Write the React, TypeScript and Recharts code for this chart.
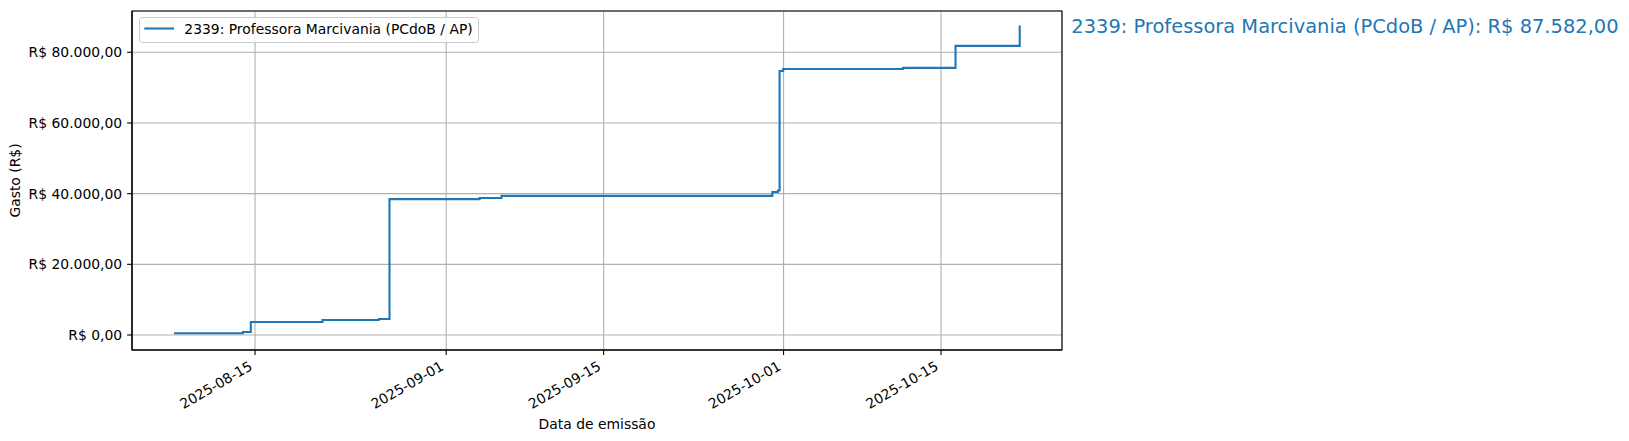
import React from "react";
import { LineChart, Line, XAxis, YAxis, CartesianGrid, ReferenceArea } from "recharts";

// Cumulative spending (step after each invoice date)
const emissionDates = [
  "2025-08-07T19:00",
  "2025-08-13T22:00",
  "2025-08-14T15:00",
  "2025-08-21T00:00",
  "2025-08-26T00:00",
  "2025-08-26T23:00",
  "2025-09-03T23:30",
  "2025-09-05T22:00",
  "2025-09-30T00:00",
  "2025-09-30T12:00",
  "2025-09-30T15:30",
  "2025-09-30T23:00",
  "2025-10-11T15:00",
  "2025-10-16T07:00",
  "2025-10-22T00:00",
];
const gastoAcumulado = [
  500, 850, 3700, 4250, 4550, 38450, 38750, 39380, 40450, 40900, 74700, 75250,
  75600, 81800, 87582,
];
const xTickLabels = ["2025-08-15", "2025-09-01", "2025-09-15", "2025-10-01", "2025-10-15"];
const yTickValues = [0, 20000, 40000, 60000, 80000];
const xDomainLabels = ["2025-08-04T01:26", "2025-10-25T18:14"];
const yDomainValues = [-4240, 91680];

const seriesName = "2339: Professora Marcivania (PCdoB / AP)";
const totalLabel = "R$ 87.582,00";

const toMs = (s: string) => Date.parse(s + ":00Z");
const data = emissionDates.map((d, i) => ({ t: toMs(d), v: gastoAcumulado[i] }));
const xTicks = xTickLabels.map((s) => Date.parse(s + "T00:00:00Z"));
const xDomain = [toMs(xDomainLabels[0]), toMs(xDomainLabels[1])];

const FONT = "DejaVu Sans";
const FS = 13.9;
const BLUE = "#1f77b4";

function fmtBRL(v: number) {
  const neg = v < 0;
  const s = Math.round(Math.abs(v)).toString();
  const withDots = s.replace(/\B(?=(\d{3})+(?!\d))/g, ".");
  return (neg ? "-" : "") + "R$ " + withDots + ",00";
}

function fmtDate(v: number) {
  return new Date(v).toISOString().slice(0, 10);
}

const YTick = (props: any) => {
  const { x, y, payload } = props;
  return (
    <text x={x} y={y} dy={5} textAnchor="end" fontSize={FS} fontFamily={FONT} fill="#000">
      {fmtBRL(payload.value)}
    </text>
  );
};

const XTick = (props: any) => {
  const { x, y, payload } = props;
  const tx = x - 1.6;
  const ty = y + 9.2;
  return (
    <text
      x={tx}
      y={ty}
      textAnchor="end"
      fontSize={FS}
      fontFamily={FONT}
      fill="#000"
      transform={`rotate(-30, ${tx}, ${ty})`}
    >
      {fmtDate(payload.value)}
    </text>
  );
};

export default function App() {
  return (
    <div style={{ position: "absolute", left: 0, top: 0, width: 1629, height: 441, background: "#fff" }}>
      <LineChart
        width={1629}
        height={441}
        data={data}
        margin={{ top: 11, right: 567, bottom: 0, left: 0 }}
      >
        <CartesianGrid stroke="#b0b0b0" strokeWidth={1.1} />
        <XAxis
          dataKey="t"
          type="number"
          scale="linear"
          domain={xDomain}
          allowDataOverflow
          ticks={xTicks}
          interval={0}
          height={91}
          tickSize={4.9}
          tickMargin={4.9}
          tick={XTick}
          axisLine={{ stroke: "#000", strokeWidth: 1.1 }}
          tickLine={{ stroke: "#000", strokeWidth: 1.1 }}
        />
        <YAxis
          type="number"
          domain={yDomainValues}
          allowDataOverflow
          ticks={yTickValues}
          interval={0}
          width={132}
          tickSize={4.9}
          tickMargin={4.9}
          tick={YTick}
          axisLine={{ stroke: "#000", strokeWidth: 1.1 }}
          tickLine={{ stroke: "#000", strokeWidth: 1.1 }}
        />
        <Line
          type="stepAfter"
          dataKey="v"
          stroke={BLUE}
          strokeWidth={2.1}
          dot={false}
          activeDot={false}
          isAnimationActive={false}
        />
        <ReferenceArea
          x1={xDomain[0]}
          x2={xDomain[1]}
          y1={yDomainValues[0]}
          y2={yDomainValues[1]}
          ifOverflow="visible"
          fill="none"
          fillOpacity={0}
          stroke="#000"
          strokeWidth={1.1}
          strokeOpacity={1}
        />
      </LineChart>
      <svg
        width={1629}
        height={441}
        style={{ position: "absolute", left: 0, top: 0, pointerEvents: "none" }}
        fontFamily={FONT}
      >
        <rect x={139.5} y={17.5} width={339} height={25} rx={2.8} fill="#fff" fillOpacity={0.8} stroke="#cccccc" strokeWidth={1} />
        <line x1={144.3} x2={174} y1={28.5} y2={28.5} stroke={BLUE} strokeWidth={2.1} />
        <text x={184.3} y={34} fontSize={FS} fill="#000">{seriesName}</text>
        <text x={1071.3} y={33} fontSize={19.44} fill={BLUE}>{seriesName + ": " + totalLabel}</text>
        <text x={19.5} y={180.5} fontSize={FS} fill="#000" textAnchor="middle" transform="rotate(-90, 19.5, 180.5)">Gasto (R$)</text>
        <text x={597} y={429} fontSize={FS} fill="#000" textAnchor="middle">Data de emissão</text>
      </svg>
    </div>
  );
}
